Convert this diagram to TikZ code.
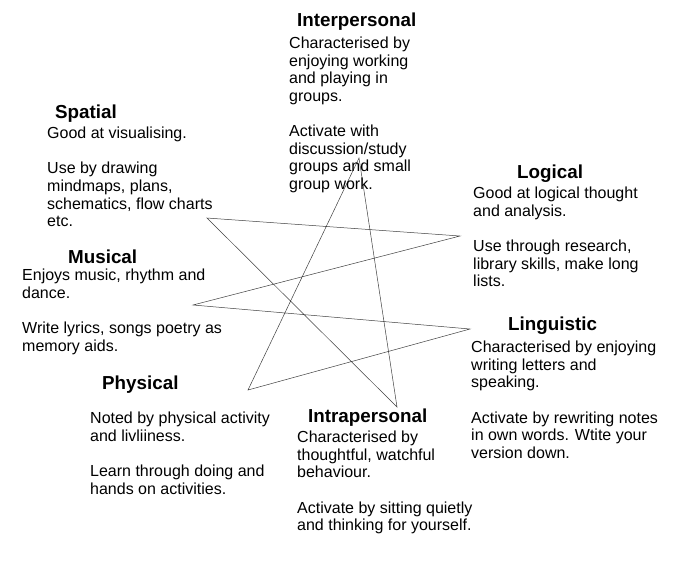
\documentclass[tikz,border=0pt]{standalone}
\usepackage{fontspec}
\setmainfont{Liberation Sans}
\begin{document}
\begin{tikzpicture}[x=1pt,y=-1pt,
  ttl/.style={anchor=base west, inner sep=0pt, font=\fontsize{18.8}{20}\selectfont\bfseries},
  body/.style={anchor=north west, inner sep=0pt, align=left, font=\fontsize{16}{17.6}\selectfont},
  starline/.style={draw=black!75, line width=0.5pt, line join=miter}]
\useasboundingbox[fill=white] (0,0) rectangle (700,560);

% star points
\coordinate (spatialpt) at (207,218);
\coordinate (logicalpt) at (460,236);
\coordinate (musicalpt) at (193,305);
\coordinate (linguisticpt) at (470,329);
\coordinate (physicalpt) at (248,390);
\coordinate (interpt) at (359,158);
\coordinate (intrapt) at (397,407);

\draw[starline] (spatialpt) -- (logicalpt) -- (musicalpt) -- (linguisticpt) -- (physicalpt) -- (interpt) -- (intrapt) -- cycle;

% Interpersonal
\node[ttl] (intert) at (297,26.5) {Interpersonal};
\node[body] (interb) at (289,35.5) {\rule{0pt}{13pt}Characterised by\\enjoying working\\and playing in\\groups.\\[17.6pt]Activate with\\discussion/study\\groups and small\\group work.};

% Spatial
\node[ttl] (spatt) at (55,118.5) {Spatial};
\node[body] (spatb) at (47,125.5) {\rule{0pt}{13pt}Good at visualising.\\[17.6pt]Use by drawing\\mindmaps, plans,\\schematics, flow charts\\etc.};

% Musical
\node[ttl] (must) at (68,263.5) {Musical};
\node[body] (musb) at (22,267.5) {\rule{0pt}{13pt}Enjoys music, rhythm and\\dance.\\[17.6pt]Write lyrics, songs poetry as\\memory aids.};

% Logical
\node[ttl] (logt) at (517,178.5) {Logical};
\node[body] (logb) at (473,185.5) {\rule{0pt}{13pt}Good at logical thought\\and analysis.\\[17.6pt]Use through research,\\library skills, make long\\lists.};

% Linguistic
\node[ttl] (lingt) at (508,330.5) {Linguistic};
\node[body] (lingb) at (471,339.5) {\rule{0pt}{13pt}Characterised by enjoying\\writing letters and\\speaking.\\[17.6pt]Activate by rewriting notes\\in own words. Wtite your\\version down.};

% Physical
\node[ttl] (phyt) at (102,389.5) {Physical};
\node[body] (phyb) at (90,410.5) {\rule{0pt}{13pt}Noted by physical activity\\and livliiness.\\[17.6pt]Learn through doing and\\hands on activities.};

% Intrapersonal
\node[ttl] (intrat) at (308,422.5) {Intrapersonal};
\node[body] (intrab) at (297,429.5) {\rule{0pt}{13pt}Characterised by\\thoughtful, watchful\\behaviour.\\[17.6pt]Activate by sitting quietly\\and thinking for yourself.};
\end{tikzpicture}
\end{document}
